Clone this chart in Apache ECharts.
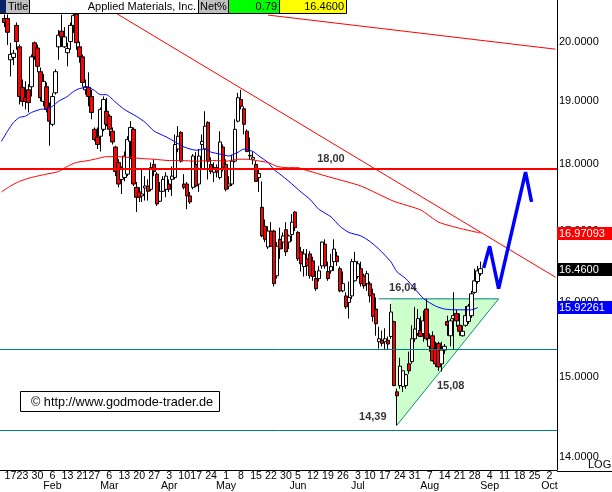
<!DOCTYPE html>
<html><head><meta charset="utf-8">
<script src="https://cdn.jsdelivr.net/npm/echarts@6/dist/echarts.min.js"></script>
<style>html,body{margin:0;padding:0;background:#fff}#c{width:612px;height:492px}</style>
</head><body><div id="c"></div>
<script>
// ---- categories (trading days; future weekdays for projection) ----
const startDate = '2006-01-11', endDate = '2006-10-04';
const holidays = ['2006-01-16','2006-02-20','2006-04-14','2006-05-29','2006-07-04'];
const monthNames = ['Jan','Feb','Mar','Apr','May','Jun','Jul','Aug','Sep','Oct','Nov','Dec'];
const candleStart = 1; // category index of the first candle

// ---- daily candles ----
const opens = [20.40,20.40,19.69,19.73,20.28,19.91,19.23,19.06,19.19,19.24,
19.98,19.89,19.49,19.00,19.24,18.92,18.63,19.14,19.91,20.18,
19.91,19.81,20.00,20.28,20.47,19.91,19.74,19.19,19.23,19.08,
18.55,18.43,18.44,18.55,18.84,18.76,18.52,18.27,18.03,17.77,
17.80,17.85,18.36,18.55,17.65,17.58,17.52,17.64,17.67,17.62,
18.00,17.85,17.44,17.59,17.62,17.70,17.77,17.80,18.24,18.50,
17.70,17.70,17.52,17.65,18.00,17.70,18.31,18.24,18.66,18.00,
17.88,17.95,17.80,18.27,18.00,17.67,17.70,18.05,18.68,19.03,
18.88,18.52,18.14,18.08,18.00,17.80,17.35,17.07,16.77,17.00,
17.00,16.36,16.88,16.84,17.02,16.84,16.95,17.28,16.98,16.70,
16.49,16.60,16.67,16.57,16.32,16.32,16.50,16.81,16.42,16.43,
16.56,16.64,16.46,16.15,16.08,15.99,16.08,16.29,16.35,16.46,
16.36,16.25,16.25,16.11,15.90,15.46,15.48,15.46,15.48,15.53,
15.73,14.81,14.89,14.88,14.89,15.17,15.20,15.50,15.57,15.61,
15.57,15.90,15.40,15.54,15.37,15.44,15.17,15.35,15.73,15.54,
15.77,15.84,15.68,15.54,15.68,15.73,15.81,16.13,16.28,16.39];
const highs = [20.47,20.47,19.98,19.86,20.33,19.95,19.36,19.33,19.28,19.78,
20.00,19.95,19.56,19.45,19.31,18.98,19.14,19.53,20.20,20.47,
20.25,19.98,20.33,20.49,20.49,20.00,19.78,19.36,19.48,19.19,
18.58,18.58,18.90,19.08,19.06,18.79,18.58,18.29,18.08,17.97,
18.20,18.44,18.68,18.58,17.73,17.65,17.92,17.82,17.77,18.03,
18.08,17.88,17.73,17.82,17.88,17.77,17.97,18.47,18.60,18.52,
17.85,17.73,17.58,18.16,18.19,18.24,18.47,18.84,18.68,18.11,
18.03,18.00,18.52,18.31,18.08,17.82,18.15,18.71,19.14,19.19,
18.92,18.55,18.42,18.20,18.05,17.92,17.74,17.17,17.07,17.13,
17.02,16.84,17.05,16.98,17.13,16.95,17.25,17.29,17.00,16.77,
16.74,16.74,16.71,16.63,16.43,16.50,16.85,16.88,16.56,16.67,
16.88,16.70,16.49,16.42,16.13,16.28,16.60,16.70,16.57,16.56,
16.39,16.43,16.28,16.18,16.06,15.66,15.61,15.64,15.53,15.97,
15.74,14.85,15.25,15.08,15.04,15.33,15.68,15.93,15.90,15.80,
15.88,16.04,15.57,15.60,15.46,15.46,15.46,15.43,15.81,15.77,
16.13,15.89,15.84,15.68,15.94,15.97,16.15,16.46,16.50,16.56];
const lows = [20.25,19.94,19.41,19.60,19.86,18.95,18.92,18.87,18.82,19.08,
19.69,19.48,19.00,18.92,18.82,18.29,18.60,19.11,19.69,19.91,
19.89,19.58,19.86,20.15,19.86,19.64,19.24,19.11,18.92,18.71,
18.36,18.24,18.20,18.52,18.60,18.44,18.31,17.82,17.65,17.55,
17.74,17.82,18.08,17.67,17.28,17.43,17.43,17.45,17.45,17.59,
17.82,17.37,17.43,17.58,17.50,17.58,17.52,17.77,18.19,18.03,
17.62,17.32,17.40,17.62,17.65,17.58,17.92,17.92,17.77,17.85,
17.73,17.80,17.77,17.89,17.59,17.62,17.67,18.03,18.66,18.87,
18.47,18.19,18.08,18.00,17.73,17.58,16.91,16.84,16.74,16.77,
16.21,16.32,16.60,16.74,16.64,16.74,16.85,17.00,16.57,16.42,
16.35,16.36,16.32,16.29,16.15,16.28,16.46,16.46,16.29,16.39,
16.43,16.50,16.13,16.13,15.90,15.77,16.04,16.28,16.32,16.21,
16.18,16.15,15.99,15.73,15.54,15.37,15.40,15.35,15.35,15.50,
14.88,14.39,14.85,14.81,14.85,15.04,15.17,15.46,15.54,15.53,
15.46,15.48,15.33,15.20,15.13,15.08,15.07,15.30,15.54,15.40,
15.35,15.66,15.54,15.53,15.66,15.70,15.78,16.11,16.25,16.36];
const closes = [20.33,20.16,19.78,19.80,20.00,19.08,19.00,19.00,18.98,19.74,
19.74,19.58,19.06,19.33,18.87,18.68,19.08,19.49,20.11,20.08,
20.08,19.88,20.28,20.45,19.98,19.74,19.31,19.24,19.08,18.82,
18.39,18.31,18.87,19.03,18.63,18.55,18.35,17.89,17.70,17.92,
18.13,18.39,18.58,17.70,17.50,17.50,17.55,17.67,17.59,17.95,
17.89,17.40,17.59,17.77,17.82,17.62,17.82,18.31,18.44,18.05,
17.65,17.52,17.43,18.13,17.67,18.13,18.36,18.60,18.05,17.89,
17.95,17.88,18.35,17.95,17.62,17.70,18.05,18.55,19.06,18.92,
18.63,18.20,18.13,18.11,17.74,17.86,16.93,16.88,17.00,16.78,
16.25,16.78,16.74,16.93,16.70,16.93,17.13,17.05,16.60,16.53,
16.67,16.50,16.36,16.35,16.18,16.43,16.84,16.50,16.32,16.49,
16.74,16.56,16.15,16.25,15.93,16.06,16.56,16.56,16.53,16.25,
16.22,16.39,16.08,15.80,15.70,15.50,15.44,15.50,15.43,15.86,
14.89,14.76,15.14,15.08,15.03,15.08,15.50,15.63,15.77,15.53,
15.74,15.50,15.50,15.21,15.17,15.13,15.35,15.40,15.68,15.74,
15.81,15.74,15.60,15.60,15.81,15.94,16.11,16.29,16.43,16.46];

// ---- moving averages (read as [category index, value]) ----
const maBlue = [[0,18.36],[2,18.52],[4,18.66],[6,18.74],[8,18.76],[10,18.82],[13,18.87],[15,18.88],[17,18.92],[19,19.00],
[22,19.08],[24,19.16],[26,19.21],[29,19.23],[31,19.18],[33,19.11],[35,19.11],[38,18.99],[41,18.87],[45,18.76],
[48,18.66],[51,18.52],[55,18.43],[58,18.35],[61,18.27],[65,18.22],[68,18.24],[70,18.19],[73,18.16],[76,18.13],
[79,18.19],[81,18.24],[84,18.20],[86,18.13],[89,18.03],[91,17.92],[93,17.85],[96,17.74],[100,17.58],[103,17.47],
[106,17.32],[110,17.21],[113,17.07],[116,16.98],[120,16.93],[123,16.85],[126,16.74],[130,16.56],[132,16.42],[135,16.32],
[138,16.18],[141,16.04],[145,15.94],[148,15.90],[151,15.89],[155,15.89],[157,15.89],[159,15.92]];
const maRed = [[0,17.58],[3,17.67],[6,17.74],[10,17.80],[15,17.85],[19,17.89],[22,17.97],[25,18.03],[29,18.06],[32,18.09],
[35,18.12],[38,18.12],[42,18.11],[47,18.09],[51,18.08],[56,18.06],[60,18.06],[65,18.05],[71,18.06],[75,18.05],
[79,18.08],[82,18.08],[85,18.06],[89,18.03],[92,17.97],[95,17.95],[99,17.95],[101,17.92],[110,17.80],[120,17.67],
[131,17.44],[140,17.31],[146,17.13],[153,17.04],[159,16.98],[160,16.97]];

// ---- drawn lines ----
const trendSteep = [[38,20.50],[185,16.34]];
const trendUpper = [[89,20.46],[185,19.87]];
const projection = [[161,16.47],[163,16.78],[166,16.18],[175,17.88],[177,17.43]];
const level18 = 17.93;
const supportLines = [15.36, 14.33];
const triangle = [[130,16.04],[166,16.04],[132,14.39]];
const triTop = [[126,16.04],[166,16.04]];
const yTicks = [14,15,16,17,18,19,20];
const tagValues = [16.97093, 16.46, 15.92261];
const tagTexts = ['16.97093','16.4600','15.92261'];
const tagColors = ['#ff0000','#000000','#0000ff'];
const noteIdx = [110,134,124,150];
const noteVal = [18.08,16.19,14.49,14.88];
const noteText = ['18,00','16,04','14,39','15,08'];

// ---- build categories ----
const cats = [];
(function(){
  let d = new Date(startDate+'T00:00:00Z');
  const end = new Date(endDate+'T00:00:00Z');
  while (d <= end) {
    const wd = d.getUTCDay();
    const s = d.toISOString().slice(0,10);
    if (wd !== 0 && wd !== 6 && holidays.indexOf(s) < 0) cats.push(s);
    d = new Date(d.getTime()+86400000);
  }
})();
const dow = s => new Date(s+'T00:00:00Z').getUTCDay();
function isWeekStart(i){ return i>0 && dow(cats[i]) < dow(cats[i-1]); }

const candleData = cats.map((c,i)=>{
  const k = i - candleStart;
  if (k < 0 || k >= opens.length) return '-';
  return [opens[k], closes[k], lows[k], highs[k]];
});

const font = 'Liberation Sans, Arial, sans-serif';
const lineMarks = [];
lineMarks.push({yAxis:level18, lineStyle:{color:'#ff0000',width:2,type:'solid',opacity:1}, label:{show:false}});
supportLines.forEach(v=>lineMarks.push({yAxis:v, lineStyle:{color:'#008080',width:1,type:'solid',opacity:1}, label:{show:false}}));

const chart = echarts.init(document.getElementById('c'), null, {renderer:'canvas'});
const hdr = [];
const R = (x,w,fill)=>hdr.push({type:'rect',z:100,shape:{x:x,y:0,width:w,height:13},style:{fill:fill}});
R(0,6,'#0a246a'); R(6,23,'#c0c0c0'); R(29,169,'#ffffff'); R(198,30,'#c0c0c0'); R(228,51,'#00ff00'); R(279,67,'#ffff00');
const L = (x1,y1,x2,y2)=>hdr.push({type:'line',z:101,shape:{x1:x1,y1:y1,x2:x2,y2:y2},style:{stroke:'#000',lineWidth:1}});
L(0,13.5,346.5,13.5); [29.5,198.5,228.5,279.5,346.5].forEach(x=>L(x,0,x,13.5));
const T = (x,text,align)=>hdr.push({type:'text',z:102,x:x,y:7,style:{text:text,fill:'#000',font:'11px '+font,textAlign:align,textVerticalAlign:'middle'}});
T(8,'Title','left'); T(196,'Applied Materials, Inc.','right'); T(200,'Net%','left'); T(277,'0.79','right'); T(344,'16.4600','right');
hdr.push({type:'line',z:50,shape:{x1:557,y1:471.5,x2:612,y2:471.5},style:{stroke:'#000',lineWidth:1}});
hdr.push({type:'rect',z:100,shape:{x:20.5,y:391.5,width:199,height:20},style:{fill:'#fff',stroke:'#000',lineWidth:1}});
hdr.push({type:'text',z:101,x:31,y:402,style:{text:'\u00a9 http://www.godmode-trader.de',fill:'#000',font:'12.7px '+font,textAlign:'left',textVerticalAlign:'middle'}});

chart.setOption({
  animation:false,
  backgroundColor:'#fff',
  grid:{left:0,right:55,top:0,bottom:21,containLabel:false},
  xAxis:{type:'category',data:cats,boundaryGap:true,
    axisLine:{lineStyle:{color:'#000',width:1}},axisTick:{show:false},splitLine:{show:false},
    axisLabel:{interval:(i)=>isWeekStart(i),hideOverlap:false,showMinLabel:true,showMaxLabel:true,margin:1,fontSize:10.6,lineHeight:10.5,color:'#000',fontFamily:font,
      formatter:(v)=>{const d=new Date(v+'T00:00:00Z');const day=d.getUTCDate();return day<=7? day+'\n'+monthNames[d.getUTCMonth()] : String(day);}}},
  yAxis:{type:'log',position:'right',min:13.853,max:20.726,
    axisLine:{show:true,lineStyle:{color:'#000',width:1}},axisTick:{show:false},axisLabel:{show:false},splitLine:{show:false}},
  graphic:hdr,
  series:[
    {type:'custom',z:1,silent:true,data:[[0,0]],
      renderItem:(params,api)=>{
        const pts = triangle.map(p=>api.coord(p));
        const top = triTop.map(p=>api.coord(p));
        return {type:'group',children:[
          {type:'polygon',shape:{points:pts},style:{fill:'#ccffcc',stroke:null}},
          {type:'polyline',shape:{points:[pts[1],pts[2]]},style:{stroke:'#109070',lineWidth:1,fill:null}},
          {type:'polyline',shape:{points:top},style:{stroke:'#008080',lineWidth:1,fill:null}}
        ]};
      }},
    {type:'line',z:2,data:[],clip:false,symbol:'none',
      markLine:{symbol:'none',silent:true,animation:false,precision:5,data:lineMarks}},
    {type:'candlestick',z:3,data:candleData,barWidth:4,clip:false,
      itemStyle:{color:'#ffffff',color0:'#ff0000',borderColor:'#000',borderColor0:'#000',borderWidth:1}},
    {type:'line',z:4,data:maBlue,smooth:0.2,symbol:'none',lineStyle:{color:'#0000ff',width:1}},
    {type:'line',z:4,data:maRed,smooth:0.2,symbol:'none',lineStyle:{color:'#ff0000',width:1}},
    {type:'line',z:4,data:trendSteep,symbol:'none',lineStyle:{color:'#ff0000',width:1}},
    {type:'line',z:4,data:trendUpper,symbol:'none',lineStyle:{color:'#ff0000',width:1}},
    {type:'line',z:5,data:projection,symbol:'none',lineStyle:{color:'#0000ff',width:3.5}},
    {type:'scatter',z:6,symbolSize:1,itemStyle:{color:'rgba(0,0,0,0)'},
      data:noteIdx.map((x,i)=>({value:[x,noteVal[i]],name:noteText[i]})),
      label:{show:true,position:'inside',formatter:'{b}',color:'#000',fontWeight:'bold',fontSize:11,fontFamily:font}}
  ]
});

// y-axis tick labels and value tags, placed through the axis scale
const extra = hdr.slice();
yTicks.forEach(v=>{
  const y = chart.convertToPixel({yAxisIndex:0}, v);
  extra.push({type:'text',z:110,x:559,y:y,style:{text:v.toFixed(4),fill:'#000',font:'11px '+font,textAlign:'left',textVerticalAlign:'middle'}});
});
extra.push({type:'text',z:111,x:588,y:470,style:{text:'LOG',fill:'#000',font:'11px '+font,textAlign:'left',textVerticalAlign:'bottom'}});
tagValues.forEach((v,i)=>{
  const y = chart.convertToPixel({yAxisIndex:0}, v);
  extra.push({type:'rect',z:120,shape:{x:557,y:Math.round(y)-6,width:55,height:13},style:{fill:tagColors[i]}});
  extra.push({type:'text',z:121,x:559,y:Math.round(y)+0.5,style:{text:tagTexts[i],fill:'#fff',font:'11px '+font,textAlign:'left',textVerticalAlign:'middle'}});
});
chart.setOption({graphic:extra}, {replaceMerge:['graphic']});
</script></body></html>
